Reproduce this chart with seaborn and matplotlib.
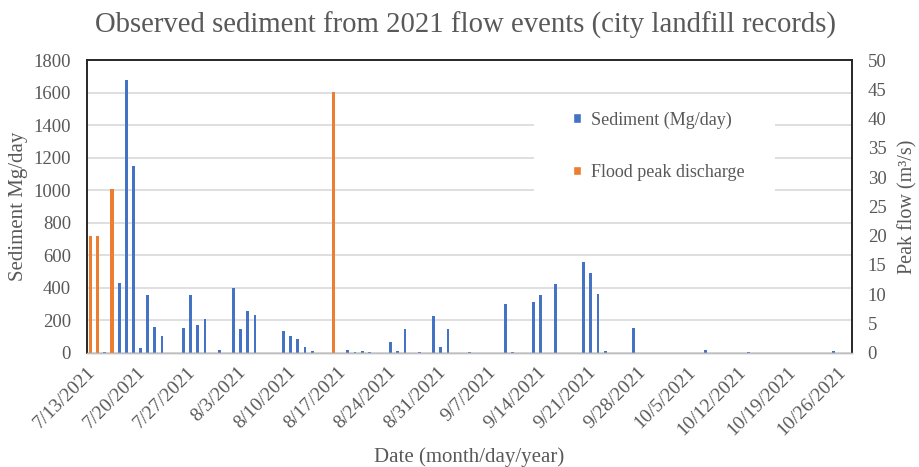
import numpy as np
import pandas as pd
import matplotlib
matplotlib.use("Agg")
import matplotlib.pyplot as plt
from matplotlib.patches import Patch, Rectangle
import seaborn as sns

# Daily sediment hauled to the city landfill (Mg/day)
sediment_dates = [
    "2021-07-15", "2021-07-17", "2021-07-18", "2021-07-19", "2021-07-20", "2021-07-21",
    "2021-07-22", "2021-07-23", "2021-07-26", "2021-07-27", "2021-07-28", "2021-07-29",
    "2021-07-31", "2021-08-02", "2021-08-03", "2021-08-04", "2021-08-05", "2021-08-09",
    "2021-08-10", "2021-08-11", "2021-08-12", "2021-08-13", "2021-08-18", "2021-08-19",
    "2021-08-20", "2021-08-21", "2021-08-24", "2021-08-25", "2021-08-26", "2021-08-28",
    "2021-08-30", "2021-08-31", "2021-09-01", "2021-09-04", "2021-09-09", "2021-09-10",
    "2021-09-13", "2021-09-14", "2021-09-16", "2021-09-20", "2021-09-21", "2021-09-22",
    "2021-09-23", "2021-09-27", "2021-10-07", "2021-10-13", "2021-10-25",
]
sediment_values = [
    3, 430, 1680, 1150, 30, 355,
    160, 105, 150, 355, 170, 205,
    15, 395, 145, 255, 230, 135,
    105, 85, 35, 10, 15, 5,
    10, 5, 65, 10, 145, 3,
    225, 35, 145, 3, 300, 3,
    310, 355, 420, 555, 490, 360,
    12, 150, 17, 3, 12,
]

# Flood peak discharge (m3/s)
flood_dates = ["2021-07-13", "2021-07-14", "2021-07-16", "2021-08-16"]
flood_values = [20, 20, 28, 44.6]

start, end = "2021-07-13", "2021-10-27"
tick_step_days = 7

BLUE = "#4472C4"
ORANGE = "#ED7D31"
TEXT = "#595959"
GRID = "#D9D9D9"

days = pd.date_range(start, end, freq="D")
labels = [f"{d.month}/{d.day}/{d.year}" for d in days]

frame = pd.DataFrame({"date": days, "label": labels})
sed = pd.Series(sediment_values, index=pd.to_datetime(sediment_dates))
flo = pd.Series(flood_values, index=pd.to_datetime(flood_dates))
frame["sediment"] = sed.reindex(days).fillna(0).values
frame["flood"] = flo.reindex(days).fillna(0).values

sns.set_style("white")
plt.rcParams["font.family"] = ["Liberation Serif", "DejaVu Serif"]

fig = plt.figure(figsize=(9.19, 4.67), dpi=100)
ax = fig.add_axes([0.0947, 0.2447, 0.8321, 0.6268])

sns.barplot(data=frame, x="label", y="sediment", order=labels, color=BLUE,
            saturation=1, width=0.4, errorbar=None, ax=ax, zorder=2,
            edgecolor="none", linewidth=0)
ax2 = ax.twinx()
sns.barplot(data=frame, x="label", y="flood", order=labels, color=ORANGE,
            saturation=1, width=0.44, errorbar=None, ax=ax2, zorder=2,
            edgecolor="none", linewidth=0)

n = len(labels)
tick_pos = np.arange(0, n, tick_step_days)
for a in (ax, ax2):
    a.set_xlim(-0.5, n - 0.5)
ax.set_xticks(tick_pos - 0.5)
ax.set_xticklabels([labels[i] for i in tick_pos], rotation=45, ha="right",
                   rotation_mode="anchor", fontsize=14, color=TEXT)
ax.tick_params(axis="x", length=5, width=1, color="#BFBFBF", pad=3)

ax.set_ylim(0, 1800)
ax.set_yticks(np.arange(0, 1801, 200))
ax.tick_params(axis="y", length=0, labelsize=13.5, labelcolor=TEXT, pad=11.5)
ax.yaxis.grid(True, color=GRID, linewidth=1.2, zorder=0)
ax.set_axisbelow(True)

ax2.set_ylim(0, 50)
ax2.set_yticks(np.arange(0, 51, 5))
ax2.tick_params(axis="y", length=0, labelsize=13.5, labelcolor=TEXT, pad=11.5)
ax2.grid(False)

ax.set_xlabel("Date (month/day/year)", fontsize=15, color=TEXT, labelpad=6)
ax.set_ylabel("Sediment Mg/day", fontsize=15, color=TEXT, labelpad=4)
ax2.set_ylabel("Peak flow (m³/s)", fontsize=14.5, color=TEXT, labelpad=8)
ax2.set_xlabel("")

for a in (ax, ax2):
    for s in ("left", "top", "right"):
        a.spines[s].set_color("#262626")
        a.spines[s].set_linewidth(1.2)
    a.spines["bottom"].set_color("#BFBFBF")
    a.spines["bottom"].set_linewidth(1)

fig.suptitle("Observed sediment from 2021 flow events (city landfill records)",
             fontsize=20.7, color=TEXT, x=0.507, y=0.975)

# white legend area over the gridlines
ax.add_patch(Rectangle((0.5845, 0.49), 0.3152, 0.387, transform=ax.transAxes,
                       facecolor="white", edgecolor="none", zorder=1))

handles = [Patch(facecolor=BLUE, label="Sediment (Mg/day)"),
           Patch(facecolor=ORANGE, label="Flood peak discharge")]
leg = ax2.legend(handles=handles, loc="upper left", bbox_to_anchor=(0.6235, 0.7612),
                 bbox_transform=fig.transFigure, frameon=False, fontsize=13,
                 labelspacing=1.95, handlelength=0.45, handleheight=0.45,
                 handletextpad=0.55, borderpad=0, borderaxespad=0)
for t in leg.get_texts():
    t.set_color(TEXT)

fig.savefig("out.png", dpi=100)
